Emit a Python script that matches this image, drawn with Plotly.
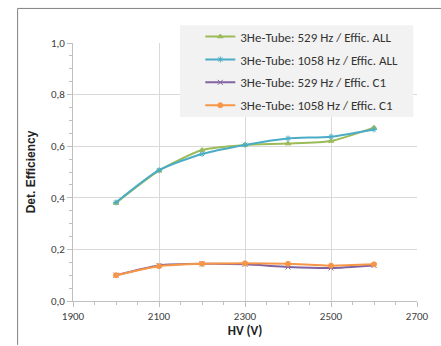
import plotly.graph_objects as go

hv = [2000, 2100, 2200, 2300, 2400, 2500, 2600]
eff_529_all = [0.380, 0.505, 0.585, 0.605, 0.610, 0.620, 0.672]
eff_1058_all = [0.382, 0.507, 0.570, 0.605, 0.630, 0.637, 0.665]
eff_529_c1 = [0.100, 0.138, 0.144, 0.142, 0.132, 0.128, 0.138]
eff_1058_c1 = [0.100, 0.135, 0.144, 0.146, 0.144, 0.137, 0.142]

names = ["3He-Tube: 529 Hz / Effic. ALL", "3He-Tube: 1058 Hz / Effic. ALL",
         "3He-Tube: 529 Hz / Effic. C1", "3He-Tube: 1058 Hz / Effic. C1"]
series = [eff_529_all, eff_1058_all, eff_529_c1, eff_1058_c1]
colors = ["#9BBB59", "#4BACC6", "#8064A2", "#F79646"]
symbols = ["triangle-up", "asterisk", "x-thin", "circle"]

fig = go.Figure()
for i, (n, y, c, s) in enumerate(zip(names, series, colors, symbols)):
    fig.add_trace(go.Scatter(
        x=hv, y=y, name=n, mode="lines+markers", legendgroup=f"g{i}",
        line=dict(color=c, width=2, shape="spline", smoothing=0.6),
        marker=dict(symbol=s, size=5, color=c, line=dict(color=c, width=1)),
    ))

tick_font = dict(family="Carlito, Liberation Sans", size=11, color="#404040")
fig.update_layout(
    width=441, height=346,
    margin=dict(l=73, r=14, t=43, b=42),
    paper_bgcolor="white", plot_bgcolor="white",
    showlegend=True,
    legend=dict(x=0.37, y=1.083, xanchor="left", yanchor="top",
                bgcolor="rgba(0,0,0,0)", borderwidth=0,
                font=dict(family="Carlito, Liberation Sans", size=13, color="#333333"),
                itemwidth=30, tracegroupgap=3),
    xaxis=dict(range=[1900, 2700], tickvals=[1900, 2100, 2300, 2500, 2700],
               showgrid=True, gridcolor="#D9D9D9", gridwidth=1,
               showline=True, linecolor="#BFBFBF", linewidth=1,
               ticks="outside", ticklen=5, tickcolor="#BFBFBF",
               minor=dict(dtick=50, ticks="outside", ticklen=3, tickcolor="#BFBFBF", showgrid=False),
               tickfont=tick_font, zeroline=False,
               title=dict(text="<b>HV (V)</b>", font=dict(family="Carlito, Liberation Sans", size=13, color="#222222"), standoff=2)),
    yaxis=dict(range=[0, 1.0], tickvals=[0, 0.2, 0.4, 0.6, 0.8, 1.0],
               ticktext=["0,0", "0,2", "0,4", "0,6", "0,8", "1,0"],
               showgrid=True, gridcolor="#D9D9D9", gridwidth=1,
               showline=True, linecolor="#BFBFBF", linewidth=1,
               ticks="outside", ticklen=5, tickcolor="#BFBFBF",
               minor=dict(dtick=0.05, ticks="outside", ticklen=3, tickcolor="#BFBFBF", showgrid=False),
               tickfont=tick_font, zeroline=False,
               title=dict(text="<b>Det. Efficiency</b>", font=dict(family="Liberation Sans, Arial", size=12, color="#222222"), standoff=12)),
)

# legend background box
fig.add_shape(type="rect", xref="paper", yref="paper", x0=0.311, x1=0.989, y0=0.713, y1=1.069,
              fillcolor="#F2F2F2", line=dict(width=0), layer="above")

# outer chart frame (partially visible)
fig.add_shape(type="line", xref="paper", yref="paper", x0=-0.161, y0=1.134, x1=1.1, y1=1.134,
              line=dict(color="#808080", width=1))
fig.add_shape(type="line", xref="paper", yref="paper", x0=-0.161, y0=1.134, x1=-0.161, y1=-0.17,
              line=dict(color="#808080", width=1))

fig.write_html("out.html")
